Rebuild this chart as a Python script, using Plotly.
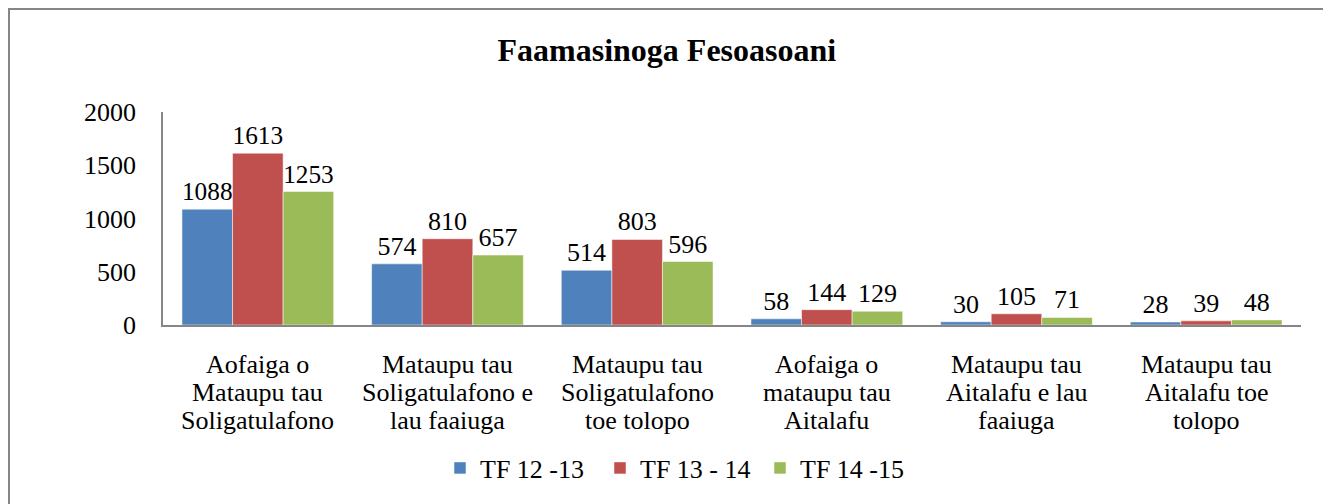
import plotly.graph_objects as go

categories = [
    "Aofaiga o<br>Mataupu tau<br>Soligatulafono",
    "Mataupu tau<br>Soligatulafono e<br>lau faaiuga",
    "Mataupu tau<br>Soligatulafono<br>toe tolopo",
    "Aofaiga o<br>mataupu tau<br>Aitalafu",
    "Mataupu tau<br>Aitalafu e lau<br>faaiuga",
    "Mataupu tau<br>Aitalafu toe<br>tolopo",
]
series_names = ["TF 12 -13", "TF 13 - 14", "TF 14 -15"]
tf_12_13 = [1088, 574, 514, 58, 30, 28]
tf_13_14 = [1613, 810, 803, 144, 105, 39]
tf_14_15 = [1253, 657, 596, 129, 71, 48]
colors = ["#4F81BD", "#C0504D", "#9BBB59"]

FONT = "Liberation Serif"
FS = 26

fig = go.Figure()
for name, vals, col in zip(series_names, [tf_12_13, tf_13_14, tf_14_15], colors):
    fig.add_trace(go.Bar(
        x=categories, y=vals, name=name,
        marker=dict(color=col, line=dict(color="white", width=0.5)),
        text=[str(v) for v in vals], textposition="outside",
        textfont=dict(family=FONT, size=FS, color="black"),
        cliponaxis=False,
    ))

# page has an 8px body margin, so figure coords = page coords - 8
W, H = 1323, 496
L, R, T, B = 155, 30, 104, 179
pw, ph = W - L - R, H - T - B

def fx(px):
    return (px - L) / pw

def fy(py):
    return (H - B - py) / ph

# category labels, one annotation per line so line spacing matches
annotations = []
line_offsets = [39.5, 67.5, 95.5]
for cat in categories:
    for i, line in enumerate(cat.split("<br>")):
        annotations.append(dict(
            x=cat, xref="x", y=fy(H - B + line_offsets[i]), yref="paper",
            text=line, showarrow=False, xanchor="center", yanchor="middle",
            font=dict(family=FONT, size=FS, color="black"),
        ))

fig.update_layout(
    width=W, height=H,
    margin=dict(l=L, r=R, t=T, b=B),
    paper_bgcolor="white", plot_bgcolor="white",
    barmode="group", bargap=0.2, bargroupgap=0,
    font=dict(family=FONT, size=FS, color="black"),
    title=dict(text="<b>Faamasinoga Fesoasoani</b>", x=0.498, xanchor="center",
               y=1 - 42 / H, yanchor="middle",
               font=dict(family=FONT, size=32, color="black")),
    showlegend=True,
    legend=dict(orientation="h", x=fx(672), xanchor="center",
                y=fy(460), yanchor="middle",
                font=dict(family=FONT, size=FS), itemwidth=30,
                entrywidth=115, traceorder="normal"),
    xaxis=dict(showline=True, linecolor="#868686", linewidth=1.5,
               ticks="", showgrid=False, showticklabels=False),
    yaxis=dict(range=[0, 2000], dtick=500, showline=True, linecolor="#868686",
               linewidth=1.5, ticks="", showgrid=False, zeroline=False,
               ticklabelstandoff=20, tickfont=dict(family=FONT, size=FS)),
    annotations=annotations,
    shapes=[dict(type="rect", xref="paper", yref="paper",
                 x0=fx(1), x1=fx(W + 20),
                 y0=fy(H + 20), y1=fy(1),
                 line=dict(color="#868686", width=2), fillcolor="rgba(0,0,0,0)",
                 layer="below")],
)

fig.write_html("out.html")
